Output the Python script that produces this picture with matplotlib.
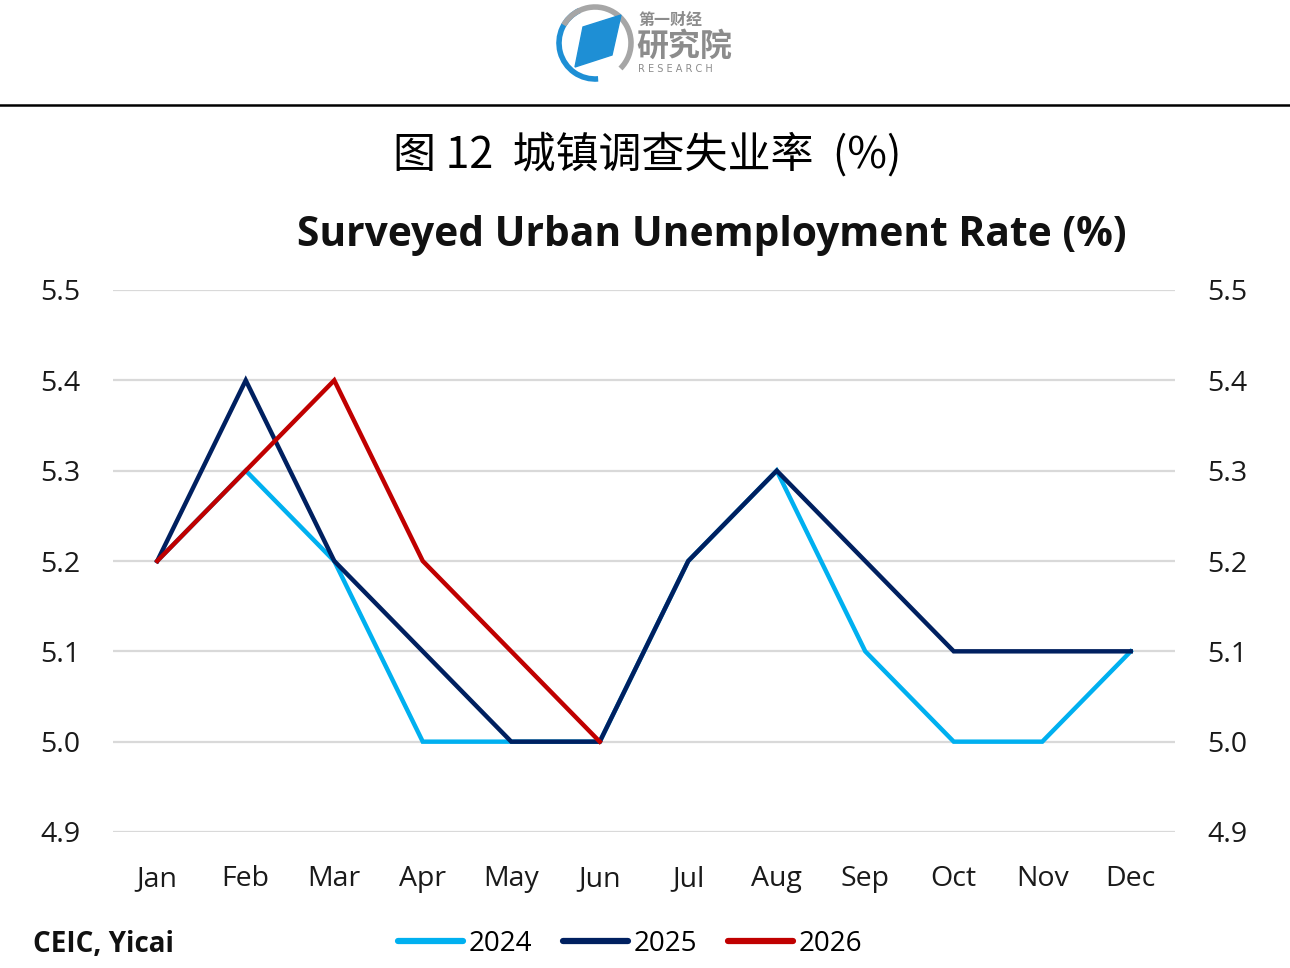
import numpy as np
import matplotlib
matplotlib.use('Agg')
import matplotlib.pyplot as plt
from matplotlib.patches import Polygon, Arc

months = ['Jan', 'Feb', 'Mar', 'Apr', 'May', 'Jun', 'Jul', 'Aug', 'Sep', 'Oct', 'Nov', 'Dec']
rate_2024 = [5.2, 5.3, 5.2, 5.0, 5.0, 5.0, 5.2, 5.3, 5.1, 5.0, 5.0, 5.1]
rate_2025 = [5.2, 5.4, 5.2, 5.1, 5.0, 5.0, 5.2, 5.3, 5.2, 5.1, 5.1, 5.1]
rate_2026 = [5.2, 5.3, 5.4, 5.2, 5.1, 5.0]
y_ticks = [4.9, 5.0, 5.1, 5.2, 5.3, 5.4, 5.5]

W, H = 1290, 968
cjk = ['Noto Sans CJK SC', 'DejaVu Sans']
latin = 'Open Sans'

fig = plt.figure(figsize=(W / 100, H / 100), dpi=100)


def fx(px):
    return px / W


def fy(py):
    return 1 - py / H


# main axes
ax = fig.add_axes([fx(113), fy(832), fx(1175 - 113), (832 - 290) / H])
x = np.arange(len(months))
ax.plot(x, rate_2024, color='#00B0F0', lw=3.2, label='2024', solid_joinstyle='miter', zorder=3)
ax.plot(x, rate_2025, color='#002060', lw=3.2, label='2025', solid_joinstyle='miter', zorder=4)
ax.plot(x[:len(rate_2026)], rate_2026, color='#C00000', lw=3.2, label='2026', solid_joinstyle='miter', zorder=5)
ax.set_xlim(-0.5, 11.5)
ax.set_ylim(4.9, 5.5)
ax.set_yticks(y_ticks)
ax.set_yticklabels(['%.1f' % v for v in y_ticks])
ax.set_xticks(x)
ax.set_xticklabels(months)
ax.grid(axis='y', color='#D9D9D9', lw=1.6, zorder=0)
for s in ax.spines.values():
    s.set_visible(False)
ax.tick_params(axis='both', length=0, labelsize=20.5, labelcolor='#1a1a1a')
ax.tick_params(axis='y', pad=23.5, labelright=True)
ax.tick_params(axis='x', pad=24)
for lab in ax.get_xticklabels() + ax.get_yticklabels():
    lab.set_family(latin)
ax.set_facecolor('none')

leg = fig.legend(loc='center', bbox_to_anchor=(fx(630), fy(944)), ncol=3, frameon=False,
                 handlelength=2.35, handletextpad=0.2, columnspacing=1.1,
                 prop={'family': latin, 'size': 20})
for line in leg.get_lines():
    line.set_linewidth(4.5)
    line.set_solid_capstyle('round')

fig.text(fx(33), fy(944), 'CEIC, Yicai', family=latin, weight='bold', fontsize=20,
         ha='left', va='center', color='#111111')

# titles
fig.text(fx(712), fy(235), 'Surveyed Urban Unemployment Rate (%)', family=latin, weight='bold',
         fontsize=29.3, ha='center', va='center', color='#111111')
fig.text(fx(647), fy(155), '图 12  城镇调查失业率  (%)', family=cjk, fontsize=31,
         ha='center', va='center', color='black')

# header rule
fig.add_artist(plt.Line2D([0, 1], [fy(105), fy(105)], color='black', lw=1.8))

# logo
lax = fig.add_axes([fx(550), fy(88), fx(200), 88 / H])
lax.set_xlim(550, 750)
lax.set_ylim(88, 0)
lax.axis('off')
lax.add_patch(Arc((595, 43), 72, 72, theta1=85, theta2=245, color='#1E8FD5', lw=4))
lax.add_patch(Arc((595, 43), 72, 72, theta1=-150, theta2=45, color='#A6A6A6', lw=4))
lax.add_patch(Polygon([(583, 27), (621, 15), (612, 55), (575, 67)], closed=True, color='#1E8FD5'))
lax.text(638, 20, '第一财经', family=cjk, fontsize=11.5, weight='bold', color='#8C8C8C',
         va='center', ha='left')
lax.text(636, 47, '研究院', family=cjk, fontsize=23, weight='bold', color='#8C8C8C',
         va='center', ha='left')
lax.text(638, 69, 'R E S E A R C H', family='DejaVu Sans', fontsize=7, color='#8C8C8C',
         va='center', ha='left')

fig.savefig('out.png', dpi=100, facecolor='white')
